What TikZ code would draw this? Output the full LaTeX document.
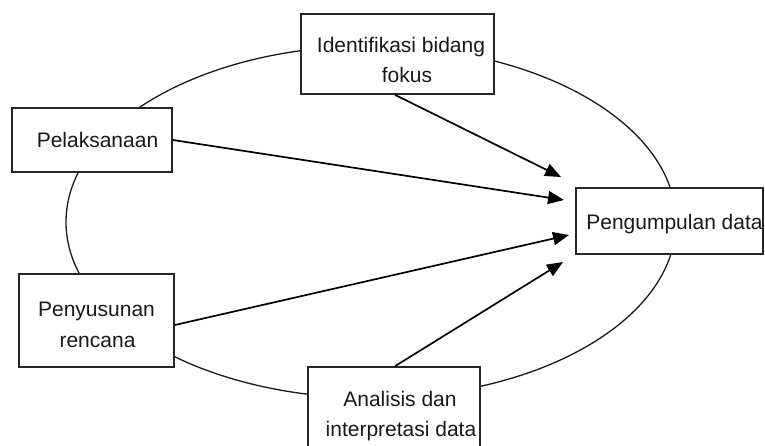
\documentclass[tikz,border=0pt]{standalone}
\usepackage{fontspec}
\setmainfont{Liberation Sans}
\usetikzlibrary{arrows.meta,calc}
\begin{document}
\begin{tikzpicture}[x=1pt,y=-1pt,
  box/.style={draw=black!85,line width=1.7pt,fill=white,inner sep=0pt},
  txt/.style={anchor=base,inner sep=0pt,font=\fontsize{21}{30}\selectfont,text=black!90},
  arr/.style={draw=black,line width=1.7pt,-{Triangle[length=16pt,width=13pt]}},
  ring/.style={draw=black!90,line width=1.3pt}]
\useasboundingbox (0,0) rectangle (765,446);
\clip (0,0) rectangle (765,446);
\fill[white] (0,0) rectangle (765,446);
% cycle ellipse
\draw[ring] (371,222) ellipse [x radius=305, y radius=176];
% boxes
\node[box,minimum width=193pt,minimum height=80pt] (idf) at (397.5,54) {};
\node[box,minimum width=160pt,minimum height=64pt] (plk) at (92,140) {};
\node[box,minimum width=155pt,minimum height=93pt] (pen) at (96.5,320.5) {};
\node[box,minimum width=172pt,minimum height=110pt] (ana) at (394,422) {};
\node[box,minimum width=187pt,minimum height=66pt] (peng) at (669.5,221) {};
% texts
\node[txt] (idf1) at (401,53) {Identifikasi bidang};
\node[txt] (idf2) at (407,83) {fokus};
\node[txt] (plk1) at (97.5,148) {Pelaksanaan};
\node[txt] (pen1) at (96.5,316) {Penyusunan};
\node[txt] (pen2) at (97.5,347) {rencana};
\node[txt] (ana1) at (400,406) {Analisis dan};
\node[txt] (ana2) at (401,436) {interpretasi data};
\node[txt] (peng1) at (674.5,230) {Pengumpulan data};
% arrow tips
\coordinate (t1) at (561,177);
\coordinate (t2) at (564,200);
\coordinate (t3) at (569,235);
\coordinate (t4) at (563,262);
% arrows
\draw[arr] ($(idf.south)+(-2.5,0)$) -- (t1);
\draw[arr] (plk.east) -- (t2);
\draw[arr] ($(pen.east)+(0,4.5)$) -- (t3);
\draw[arr] ($(ana.north)+(1,0)$) -- (t4);
\end{tikzpicture}
\end{document}
